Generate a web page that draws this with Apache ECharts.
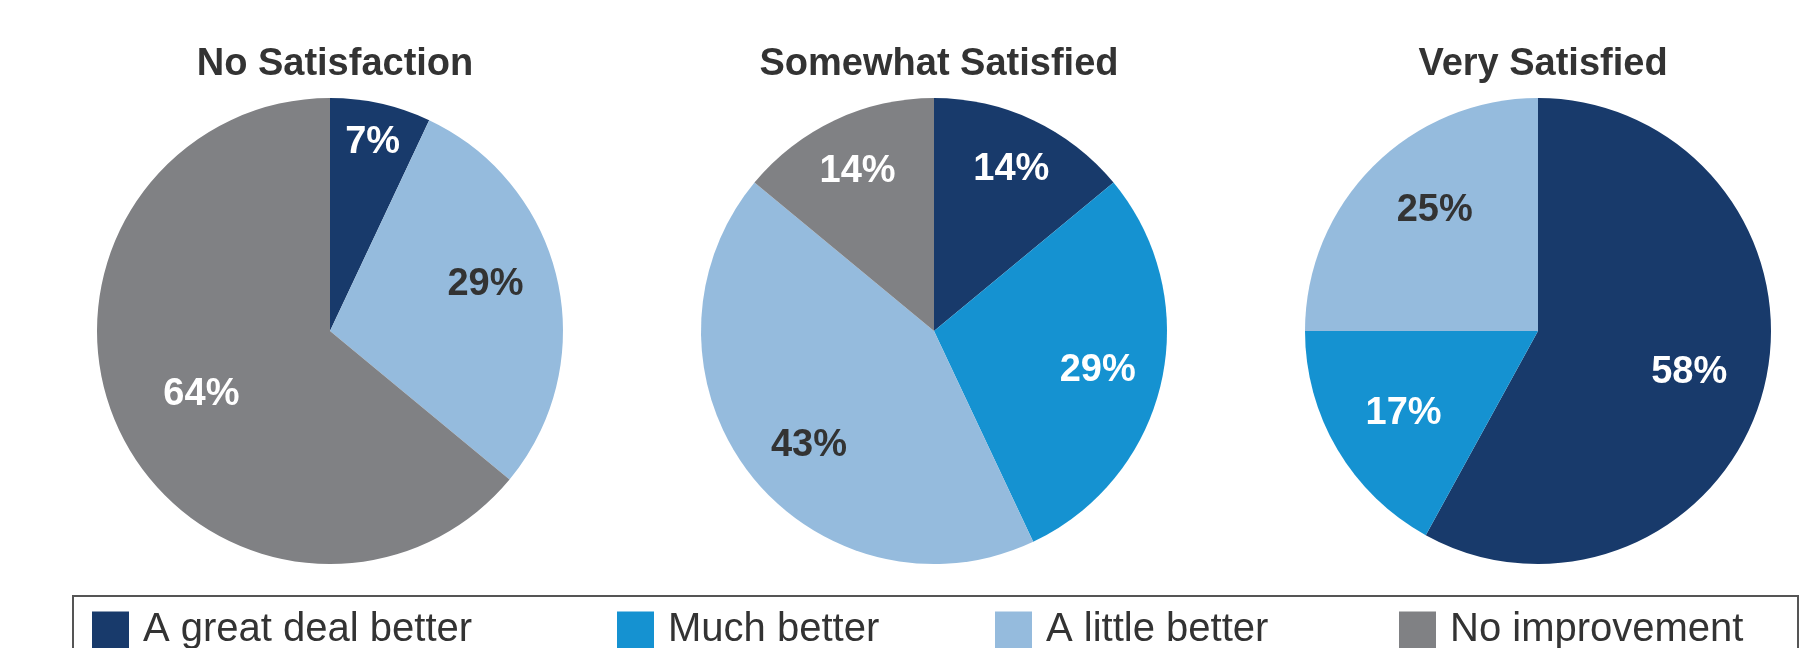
<!DOCTYPE html>
<html>
<head>
<meta charset="utf-8">
<script src="https://cdn.jsdelivr.net/npm/echarts@6/dist/echarts.min.js"></script>
<style>
    html, body { margin: 0; padding: 0; background: #fff; }
    #chart { width: 1812px; height: 648px; }
</style>
</head>
<body>
<div id="chart"></div>
<script>
    // data
    var categories = ['A great deal better', 'Much better', 'A little better', 'No improvement'];
    var groups = ['No Satisfaction', 'Somewhat Satisfied', 'Very Satisfied'];
    var noSatisfaction = [7, 0, 29, 64];
    var somewhatSatisfied = [14, 29, 43, 14];
    var verySatisfied = [58, 17, 25, 0];

    // style
    var colors = ['#183a6b', '#1592d1', '#95bbdd', '#808184'];
    var labelColors = ['#ffffff', '#ffffff', '#333333', '#ffffff'];
    var centersX = [330, 934, 1538];
    var centerY = 331;
    var radius = 233;
    // label distance from centre, as a share of the radius
    var labelDist = [
        [0.84, 0, 0.70, 0.61],
        [0.78, 0.72, 0.72, 0.77],
        [0.67, 0.67, 0.69, 0]
    ];
    // small nudges off the slice mid-angle, degrees
    var labelShift = [
        [0, 0, -5, 0],
        [0, 0, -4, 0],
        [0, 0, 5, 0]
    ];
    var legendLeft = [92, 617, 995, 1399];
    var font = "'Liberation Sans', Arial, sans-serif";

    var values = [noSatisfaction, somewhatSatisfied, verySatisfied];
    var chart = echarts.init(document.getElementById('chart'));

    function labelPos(s, i) {
        var vals = values[s];
        var total = 0, before = 0;
        vals.forEach(function (v, j) {
            total += v;
            if (j < i) before += v;
        });
        var mid = (before + vals[i] / 2) / total * Math.PI * 2 + labelShift[s][i] * Math.PI / 180;
        var r = radius * labelDist[s][i];
        return { x: centersX[s] + r * Math.sin(mid), y: centerY - r * Math.cos(mid) + 3 };
    }

    var series = values.map(function (vals, s) {
        return {
            type: 'pie',
            name: groups[s],
            center: [centersX[s], centerY],
            radius: [0, radius],
            startAngle: 90,
            clockwise: true,
            silent: true,
            itemStyle: { borderWidth: 0 },
            label: {
                position: 'inside',
                formatter: '{c}%',
                fontFamily: font,
                fontSize: 38,
                fontWeight: 'bold'
            },
            labelLine: { show: false },
            labelLayout: function (params) {
                return labelPos(params.seriesIndex, params.dataIndex);
            },
            data: categories.map(function (c, i) {
                return {
                    name: c,
                    value: vals[i],
                    itemStyle: { color: colors[i] },
                    label: { show: vals[i] > 0, color: labelColors[i] }
                };
            })
        };
    });

    var titles = groups.map(function (g, s) {
        return {
            text: g,
            left: centersX[s],
            top: 41,
            textAlign: 'center',
            textStyle: { fontFamily: font, fontSize: 38, fontWeight: 'bold', color: '#333333' }
        };
    });

    var legends = categories.map(function (c, i) {
        return {
            data: [c],
            left: legendLeft[i],
            top: 610,
            padding: 0,
            icon: 'rect',
            itemWidth: 37,
            itemHeight: 37,
            selectedMode: false,
            textStyle: { fontFamily: font, fontSize: 40, color: '#333333', padding: [0, 0, 0, 9] }
        };
    });

    chart.setOption({
        animation: false,
        title: titles,
        legend: legends,
        graphic: [{
            type: 'rect',
            shape: { x: 73, y: 596, width: 1725, height: 100 },
            style: { fill: 'none', stroke: '#555555', lineWidth: 2 },
            silent: true
        }],
        series: series
    });
</script>
</body>
</html>
